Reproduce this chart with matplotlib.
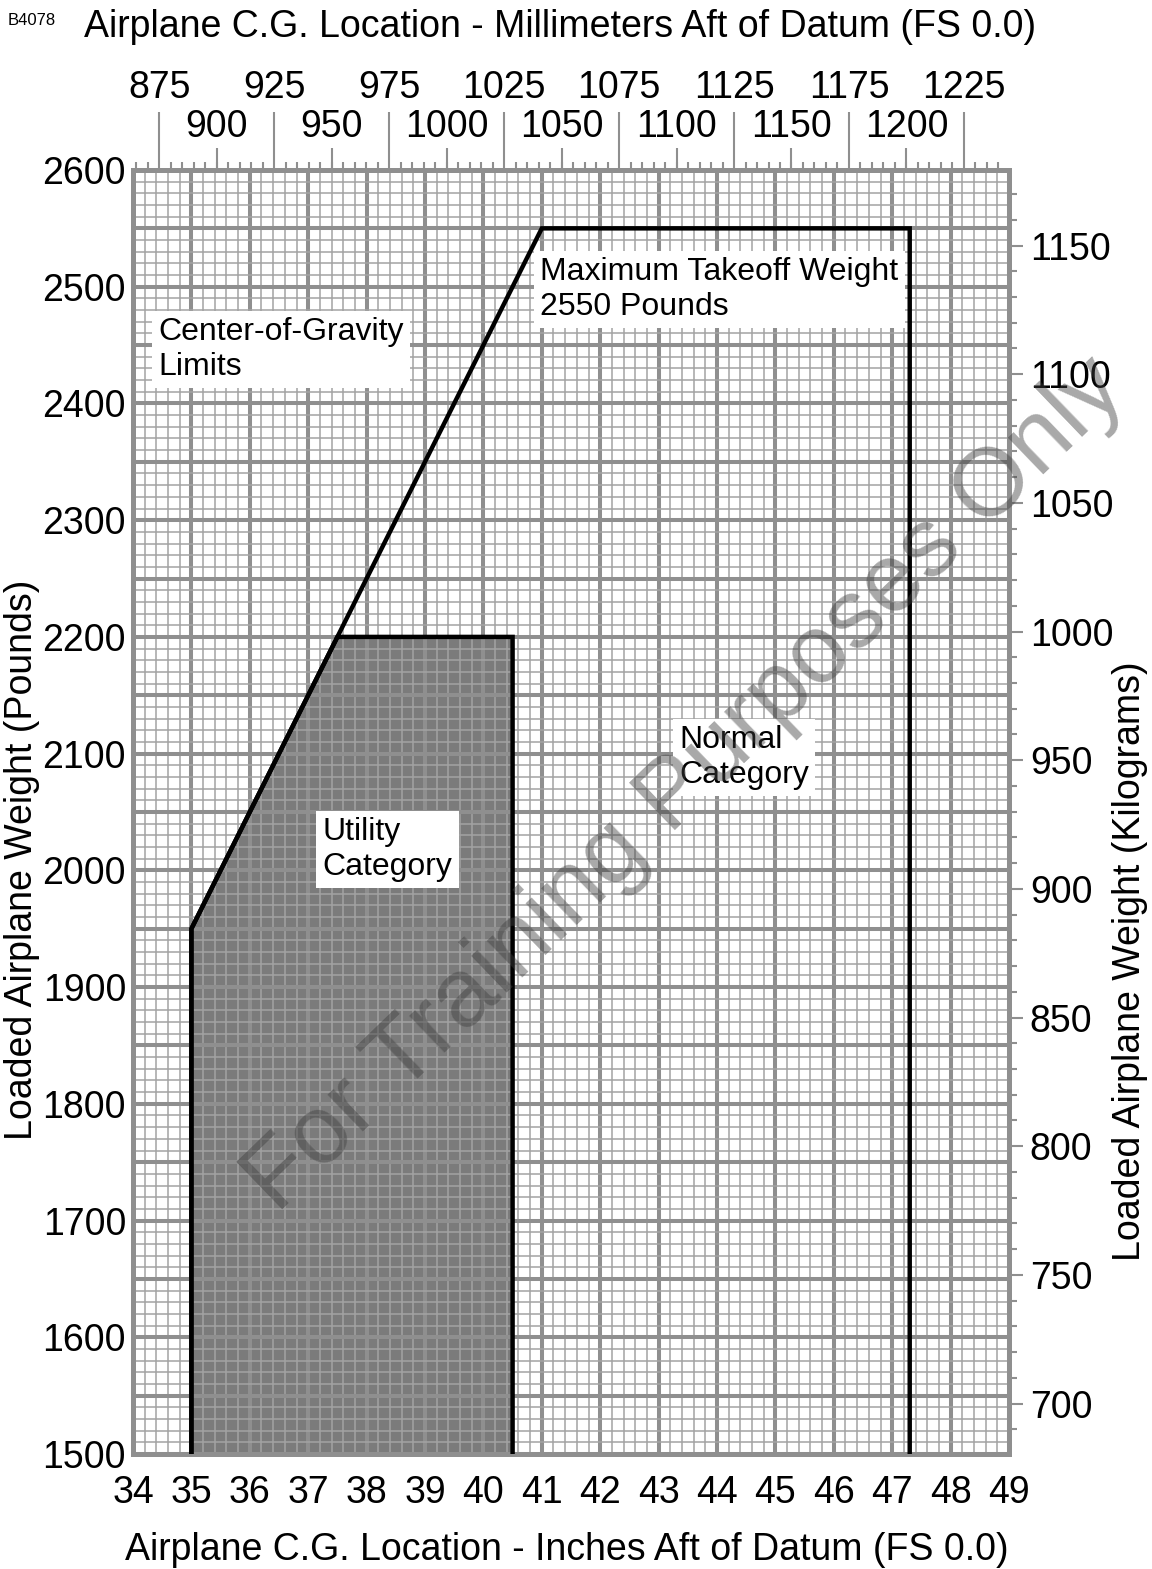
import numpy as np
import matplotlib
matplotlib.use("Agg")
import matplotlib.pyplot as plt
from matplotlib.ticker import MultipleLocator, FixedLocator, FuncFormatter

plt.rcParams['font.family'] = ['Liberation Sans', 'DejaVu Sans']

# C.G. envelope (inches aft of datum, pounds)
normal_cg = [35.0, 35.0, 41.0, 47.3, 47.3]
normal_wt = [1500, 1950, 2550, 2550, 1500]
utility_cg = [35.0, 35.0, 37.5, 40.5, 40.5]
utility_wt = [1500, 1950, 2200, 2200, 1500]

mm_top_row = [875, 925, 975, 1025, 1075, 1125, 1175, 1225]
mm_low_row = [900, 950, 1000, 1050, 1100, 1150, 1200]
kg_ticks = [700, 750, 800, 850, 900, 950, 1000, 1050, 1100, 1150]

GRID = '#8f8f8f'
MINOR = '#a3a3a3'
FILL = '#7b7b7b'
FS = 27

W, H = 1152, 1569
fig = plt.figure(figsize=(W / 100, H / 100), dpi=100)
ax = fig.add_axes([133 / W, 1 - 1454 / H, (1009 - 133) / W, (1454 - 170) / H])

ax.set_xlim(34, 49)
ax.set_ylim(1500, 2600)

ax.xaxis.set_major_locator(MultipleLocator(1))
ax.xaxis.set_minor_locator(MultipleLocator(0.2))
ax.yaxis.set_major_locator(MultipleLocator(50))
ax.yaxis.set_minor_locator(MultipleLocator(10))
ax.yaxis.set_major_formatter(FuncFormatter(lambda v, p: f"{int(v)}" if v % 100 == 0 else ""))
ax.xaxis.set_major_formatter(FuncFormatter(lambda v, p: f"{int(v)}"))

ax.tick_params(axis='both', which='both', length=0, labelsize=FS)
ax.tick_params(axis='x', pad=15)
ax.tick_params(axis='y', pad=5)

ax.set_axisbelow(True)
ax.grid(which='major', color=GRID, lw=2.9)
ax.grid(which='minor', color=MINOR, lw=1.1)
for s in ax.spines.values():
    s.set_color(GRID)
    s.set_linewidth(3.6)

# utility category area and the overall limits
ax.fill(utility_cg, utility_wt, color=FILL, zorder=0.3, lw=0)
ax.plot(utility_cg, utility_wt, color='black', lw=3.2, solid_joinstyle='miter', zorder=3)
ax.plot(normal_cg, normal_wt, color='black', lw=3.2, solid_joinstyle='miter', zorder=3)

box = dict(boxstyle='square,pad=0.2', facecolor='white', edgecolor='none')
ax.text(34.43, 2474, "Center-of-Gravity\nLimits", fontsize=23, va='top', ha='left', bbox=box, zorder=5)
ax.text(40.97, 2525.5, "Maximum Takeoff Weight\n2550 Pounds", fontsize=23, va='top', ha='left', bbox=box, zorder=5)
ax.text(43.35, 2124.5, "Normal\nCategory", fontsize=23, va='top', ha='left', bbox=box, zorder=5)
ax.text(37.25, 2045.7, "Utility\nCategory", fontsize=23, va='top', ha='left', bbox=box, zorder=5)

ax.set_ylabel("Loaded Airplane Weight (Pounds)", fontsize=FS)
ax.yaxis.set_label_coords(-0.106, 0.4626)

# millimetre scale on top, two staggered rows of labels
mm_lim = (34 * 25.4, 49 * 25.4)
top1 = ax.twiny()
top1.set_xlim(*mm_lim)
top1.xaxis.set_major_locator(FixedLocator(mm_top_row))
top1.xaxis.set_minor_locator(FixedLocator(np.arange(865, 1241, 5)))
top1.tick_params(which='major', length=42, width=1.5, color=GRID, labelsize=FS, pad=4)
top1.tick_params(which='minor', length=6, width=1.5, color=GRID)

top2 = ax.twiny()
top2.set_xlim(*mm_lim)
top2.xaxis.set_major_locator(FixedLocator(mm_low_row))
top2.xaxis.set_minor_locator(FixedLocator([]))
top2.tick_params(which='major', length=16, width=1.5, color=GRID, labelsize=FS, pad=2)

# kilogram scale on the right
right = ax.twinx()
right.set_ylim(1500 / 2.20462, 2600 / 2.20462)
right.yaxis.set_major_locator(FixedLocator(kg_ticks))
right.yaxis.set_minor_locator(MultipleLocator(10))
right.tick_params(which='major', length=10, width=1.5, color=GRID, labelsize=FS, pad=5)
right.tick_params(which='minor', length=6, width=1.5, color=GRID)
right.set_ylabel("Loaded Airplane Weight (Kilograms)", fontsize=FS, rotation=90)
right.yaxis.set_label_coords(1.118, 0.384)

for a in (top1, top2, right):
    for s in a.spines.values():
        s.set_visible(False)

fig.text(567 / W, 1 - 1560 / H, "Airplane C.G. Location - Inches Aft of Datum (FS 0.0)",
         fontsize=FS, ha='center', va='baseline')
fig.text(560 / W, 1 - 37 / H, "Airplane C.G. Location - Millimeters Aft of Datum (FS 0.0)",
         fontsize=FS, ha='center', va='baseline')
fig.text(8 / W, 1 - 25 / H, "B4078", fontsize=12, ha='left', va='baseline')

fig.text(703 / W, 1 - 804 / H, "For Training Purposes Only", fontsize=70, color='#404040',
         alpha=0.45, rotation=44, rotation_mode='anchor', ha='center', va='baseline')

fig.savefig("out.png", dpi=100)
